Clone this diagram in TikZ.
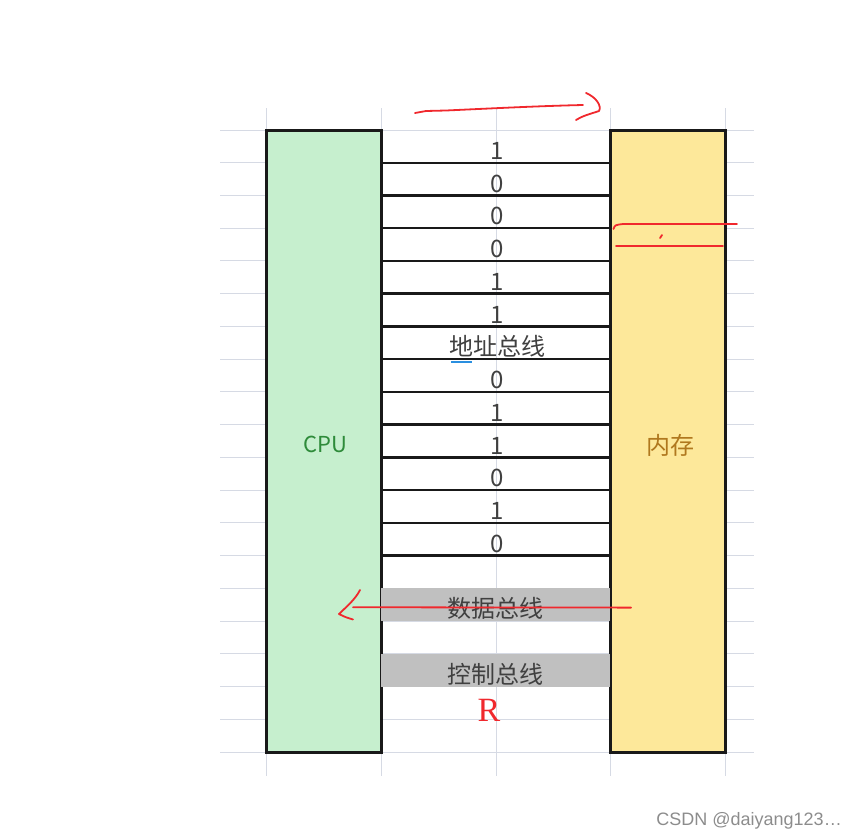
\documentclass[tikz,border=0pt]{standalone}
\usepackage{fontspec}
\setmainfont{Noto Sans CJK SC}
\newfontfamily\serifR{Liberation Serif}
\newfontfamily\markfont{Liberation Sans}
\usepackage{xcolor}
\usepackage{tikz}
\usetikzlibrary{calc}

\definecolor{gridgray}{HTML}{D6DAE4}
\definecolor{cpugreen}{HTML}{C6EFCE}
\definecolor{cputext}{HTML}{2E8B3A}
\definecolor{memyellow}{HTML}{FDE89A}
\definecolor{memtext}{HTML}{B0781E}
\definecolor{busgray}{HTML}{C0C0C0}
\definecolor{inkred}{HTML}{F0282D}
\definecolor{cursorblue}{HTML}{2A8FE0}

\begin{document}
\begin{tikzpicture}[x=1pt,y=-1pt,
  gridline/.style={draw=gridgray,line width=1pt},
  unit/.style={draw=black!90,line width=3pt,outer sep=0pt,inner sep=0pt,minimum width=115pt,minimum height=622pt},
  bus/.style={draw=black!90,line width=2.4pt},
  bit/.style={inner sep=0pt,minimum height=32.737pt,minimum width=229pt,text height=26pt,text depth=0pt,
    font=\fontsize{24}{26}\selectfont,text=black!75},
  shade/.style={bit,fill=busgray},
  pen/.style={draw=inkred,line width=1.8pt,line cap=round,line join=round}
]
\useasboundingbox (0,0) rectangle (857,839);
\foreach \k in {0,...,19}
  \draw[gridline] (220,{130+\k*32.737}) -- (754,{130+\k*32.737});
\foreach \x in {266,381,496,610,725}
  \draw[gridline] (\x,108) -- (\x,776);

\node[unit,fill=cpugreen] (cpu) at (323.5,441) {};
\node[unit,fill=memyellow] (mem) at (667.5,441) {};
\node[anchor=base,font=\fontsize{22}{24}\selectfont,text=cputext] (cpulabel) at (325,452) {CPU};
\node[anchor=base,font=\fontsize{24}{26}\selectfont,text=memtext] (memlabel) at (670.5,454) {内存};

\foreach \k in {1,...,13}
  \draw[bus] ($(cpu.north east)+(0,\k*32.737)$) -- ($(mem.north west)+(0,\k*32.737)$);

\foreach \t [count=\i] in {1,0,0,0,1,1,地址总线,0,1,1,0,1,0}
  \node[bit] (row\i) at (497,{130+(\i-0.5)*32.737}) {\t};
\node[shade] (databus) at (495.5,{130+14.5*32.737}) {数据总线};
\node[shade] (ctrlbus) at (495.5,{130+16.5*32.737}) {控制总线};
\node[anchor=base,inner sep=0pt,font=\serifR\fontsize{34}{36}\selectfont,text=inkred] (rsig) at (489,721) {R};
\draw[draw=cursorblue,line width=1.5pt] (451,362) -- (472,362);

\coordinate (sendtail) at (415,113);
\coordinate (sendhead) at (583,105);
\draw[pen] (sendtail) -- (426,111) -- (446,110.5) .. controls (500,108) and (540,106) .. (sendhead);
\draw[pen] (586,93) .. controls (596,97) and (602,106) .. (599,111) .. controls (590,114) and (582,116) .. (576,120);
\draw[pen] (613.5,229) .. controls (615,225) .. (623,224) -- (737,224);
\draw[pen] (616,246) -- (723,246);
\draw[pen] (660,238) -- (662,235);
\coordinate (readsrc) at (631,607.6);
\coordinate (readdst) at (353,607.2);
\draw[pen] (readsrc) -- (500,607.5) -- (readdst);
\draw[pen] (360,590) .. controls (355,600) and (345,608) .. (339,614) .. controls (345,617) .. (353,619.5);

\node[anchor=base east,inner sep=0pt,font=\markfont\fontsize{18}{20}\selectfont,text=black!45] (credit) at (842,825) {CSDN @daiyang123\ldots};
\end{tikzpicture}
\end{document}
